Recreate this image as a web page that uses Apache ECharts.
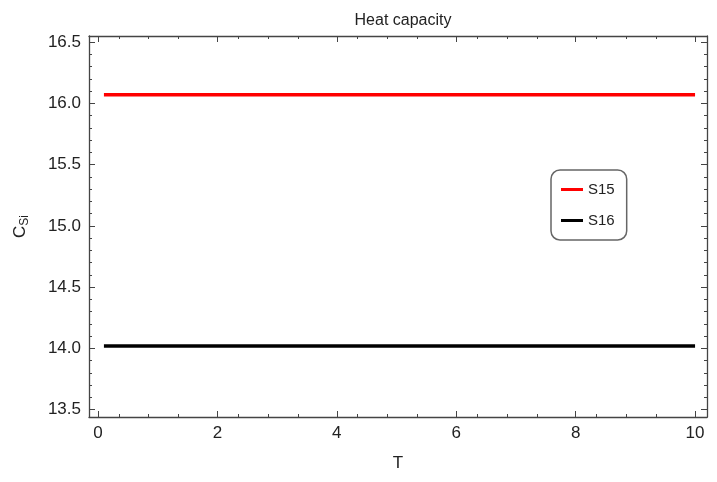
<!DOCTYPE html>
<html><head><meta charset="utf-8">
<script src="https://cdn.jsdelivr.net/npm/echarts@6/dist/echarts.min.js"></script>
<style>html,body{margin:0;padding:0;background:#fff}#c{width:717px;height:482px}</style>
</head><body><div id="c"></div>
<script>
const seriesNames = ['S15', 'S16'];
const tValues = [0.1, 10];
const s15 = [16.07, 16.07];
const s16 = [14.02, 14.02];
const colors = ['#ff0000', '#000000'];

const chart = echarts.init(document.getElementById('c'));
const axisCol = '#444';
const ax = (pos, show, extra) => Object.assign({
  position: pos,
  axisLine: {show: true, onZero: false, lineStyle: {color: axisCol, width: 1.3}},
  axisTick: {show: true, inside: true, length: 6, lineStyle: {color: axisCol}},
  minorTick: {show: true, length: 3, lineStyle: {color: axisCol}},
  axisLabel: {show: show, color: '#222', fontSize: 17, fontFamily: 'Liberation Sans, Arial'},
  splitLine: {show: false}
}, extra);
chart.setOption({
  animation: false,
  title: {text: 'Heat capacity', left: 398, top: 8, textAlign: 'center',
    textStyle: {fontSize: 16, fontWeight: 'normal', color: '#222', fontFamily: 'Liberation Sans, Arial'}},
  legend: {
    orient: 'vertical', left: 551, top: 170, padding: [12, 12, 12, 10], itemGap: 16,
    borderColor: '#666', borderWidth: 1.5, borderRadius: 9, backgroundColor: '#fff',
    itemWidth: 22, itemHeight: 3, icon: 'rect',
    textStyle: {fontSize: 15, color: '#222', fontFamily: 'Liberation Sans, Arial'},
    data: seriesNames
  },
  grid: {left: 89, right: 10, top: 36, bottom: 65},
  xAxis: [
    ax('bottom', true, {type: 'value', min: -0.15, max: 10.2, interval: 2,
      minorTick: {show: true, splitNumber: 4, length: 3, lineStyle: {color: axisCol}},
      axisLabel: {show: true, color: '#222', fontSize: 17, fontFamily: 'Liberation Sans, Arial',
        customValues: [0,2,4,6,8,10]},
      axisTick: {show: true, inside: true, length: 6, lineStyle: {color: axisCol}, customValues: [0,2,4,6,8,10]},
      name: 'T', nameLocation: 'middle', nameGap: 38,
      nameTextStyle: {fontSize: 17, color: '#222', fontFamily: 'Liberation Sans, Arial'}}),
    ax('top', false, {type: 'value', min: -0.15, max: 10.2, interval: 2,
      minorTick: {show: true, splitNumber: 4, length: 3, lineStyle: {color: axisCol}},
      axisTick: {show: true, inside: true, length: 6, lineStyle: {color: axisCol}, customValues: [0,2,4,6,8,10]}})
  ],
  yAxis: [
    ax('left', true, {type: 'value', min: 13.44, max: 16.55,
      axisLabel: {show: true, color: '#222', fontSize: 17, fontFamily: 'Liberation Sans, Arial',
        customValues: [13.5,14,14.5,15,15.5,16,16.5], formatter: v => v.toFixed(1)},
      axisTick: {show: true, inside: true, length: 6, lineStyle: {color: axisCol}, customValues: [13.5,14,14.5,15,15.5,16,16.5]},
      name: '{c|C}{s|Si}', nameLocation: 'middle', nameGap: 58,
      nameTextStyle: {rich: {c: {fontSize: 17, color: '#222'}, s: {fontSize: 12, color: '#222', padding: [10,0,0,0]}}}}),
    ax('right', false, {type: 'value', min: 13.44, max: 16.55,
      axisTick: {show: true, inside: true, length: 6, lineStyle: {color: axisCol}, customValues: [13.5,14,14.5,15,15.5,16,16.5]}})
  ],
  series: [
    {name: seriesNames[0], type: 'line', data: tValues.map((t, i) => [t, s15[i]]), showSymbol: false,
      lineStyle: {color: colors[0], width: 3.5}, itemStyle: {color: colors[0]}},
    {name: seriesNames[1], type: 'line', data: tValues.map((t, i) => [t, s16[i]]), showSymbol: false,
      lineStyle: {color: colors[1], width: 3.5}, itemStyle: {color: colors[1]}}
  ]
});
</script></body></html>
